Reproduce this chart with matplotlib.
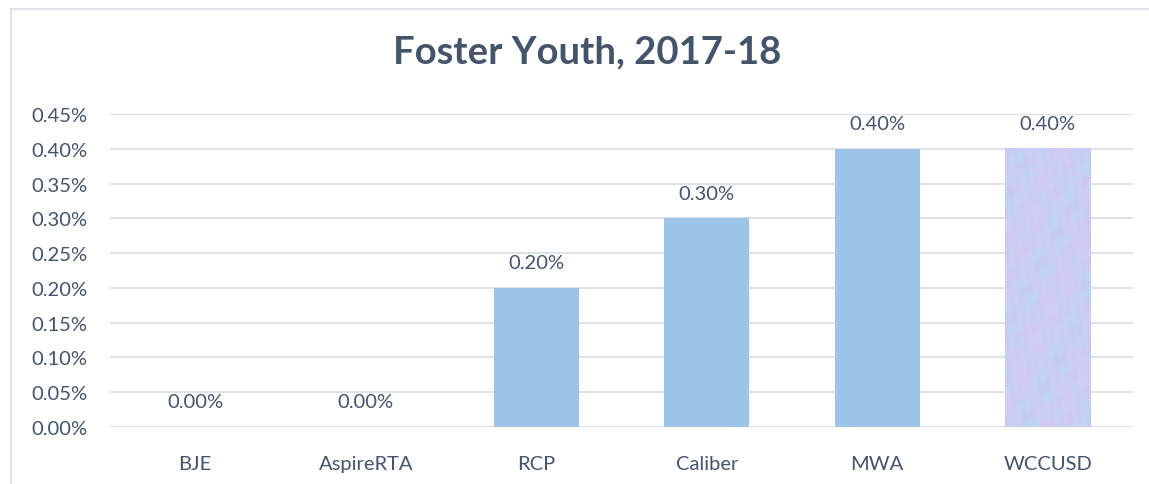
import numpy as np
import matplotlib.pyplot as plt
from matplotlib.patches import Rectangle
from matplotlib.ticker import FuncFormatter

# data
schools = ["BJE", "AspireRTA", "RCP", "Caliber", "MWA", "WCCUSD"]
foster_pct = [0.00, 0.00, 0.20, 0.30, 0.40, 0.40]
y_ticks = [0.00, 0.05, 0.10, 0.15, 0.20, 0.25, 0.30, 0.35, 0.40, 0.45]

text_col = "#44546A"
bar_col = "#9DC3E6"
grid_col = "#DDE2EA"

plt.rcParams["font.family"] = ["Lato", "DejaVu Sans"]

fig = plt.figure(figsize=(11.49, 4.85), dpi=100)
ax = fig.add_axes([110 / 1149, 1 - 428 / 485, (1133 - 110) / 1149, (428 - 115) / 485])

x = np.arange(len(schools))
bars = ax.bar(x[:-1], foster_pct[:-1], width=0.5, color=bar_col, zorder=3)

# textured bar for the district
wb = ax.bar(x[-1], foster_pct[-1], width=0.5, color="none", zorder=3)[0]
gx, gy = np.meshgrid(np.linspace(0, 1, 60), np.linspace(0, 1, 250))
n = (np.sin(gx * 23 + gy * 41) + np.sin(gx * 57 - gy * 19 + 1.3)
     + np.sin(gy * 83 + gx * 11 + 0.7) + 0.7 * np.sin(gx * 131 + gy * 149)
     + 0.6 * np.sin(gx * 211 - gy * 307 + 0.4) * np.sin(gy * 251 + gx * 97))
m = (np.sin(gx * 9 + gy * 13 + 2.0) + np.sin(gy * 29 - gx * 17)
     + 0.5 * np.sin(gx * 173 + gy * 229 + 1.1))
n = (n - n.min()) / (n.max() - n.min())
m = (m - m.min()) / (m.max() - m.min())
c_blue = np.array([176, 218, 248]) / 255
c_lav = np.array([196, 190, 240]) / 255
c_pink = np.array([232, 194, 238]) / 255
c_white = np.array([224, 230, 248]) / 255
img = (c_blue * (1 - n)[..., None] + c_lav * n[..., None])
img = img * (1 - 0.5 * m)[..., None] + c_pink * (0.5 * m)[..., None]
img = 0.85 * img + 0.15 * c_white
x0 = wb.get_x()
ax.imshow(img, extent=[x0, x0 + wb.get_width(), 0, foster_pct[-1]],
          aspect="auto", zorder=3, interpolation="bilinear")

for xi, v in zip(x, foster_pct):
    ax.annotate(f"{v:.2f}%", (xi, v), xytext=(0, 18), textcoords="offset points",
                ha="center", va="center", fontsize=14.5, color=text_col)

ax.set_xlim(-0.5, len(schools) - 0.5)
ax.set_ylim(0, 0.45)
ax.set_yticks(y_ticks)
ax.yaxis.set_major_formatter(FuncFormatter(lambda v, p: f"{v:.2f}%"))
ax.set_xticks(x)
ax.set_xticklabels(schools)
ax.tick_params(axis="both", length=0, colors=text_col, labelsize=14.5)
ax.tick_params(axis="x", pad=20)
ax.tick_params(axis="y", pad=16)
ax.grid(axis="y", color=grid_col, linewidth=1.5, zorder=0)
for s in ax.spines.values():
    s.set_visible(False)

fig.text(587 / 1149, 1 - 52 / 485, "Foster Youth, 2017-18", ha="center", va="center",
         fontsize=27.5, fontweight="bold", color=text_col)

# chart border
fig.patches.append(Rectangle((11 / 1149, -0.1), 1.2, 1 - 10 / 485 + 0.1,
                             transform=fig.transFigure, fill=False,
                             edgecolor="#D9DDE6", linewidth=1.2))

fig.savefig("out.png", dpi=100)
